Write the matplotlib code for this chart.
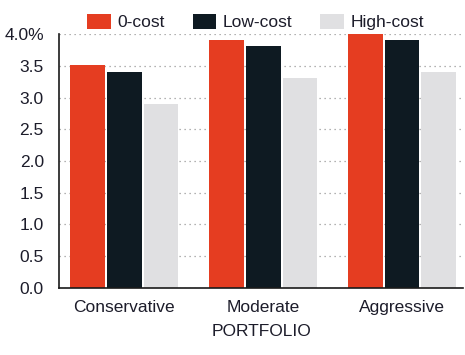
import matplotlib.pyplot as plt
import numpy as np

portfolios = ["Conservative", "Moderate", "Aggressive"]
series = ["0-cost", "Low-cost", "High-cost"]
zero_cost = [3.51, 3.91, 4.0]
low_cost = [3.40, 3.81, 3.91]
high_cost = [2.90, 3.31, 3.40]
yticks = [0.0, 0.5, 1.0, 1.5, 2.0, 2.5, 3.0, 3.5, 4.0]
ytick_labels = ["0.0", "0.5", "1.0", "1.5", "2.0", "2.5", "3.0", "3.5", "4.0%"]

colors = ["#E53D21", "#0E1A22", "#E0E0E2"]
text_color = "#1c1c2a"

plt.rcParams["font.family"] = ["Liberation Sans", "DejaVu Sans"]

fig = plt.figure(figsize=(4.65, 3.55), dpi=100)
ax = fig.add_axes([0.127, 0.189, 0.869, 0.715])

x = np.arange(len(portfolios))
width = 0.25
offsets = [-0.265, 0.0, 0.265]
for vals, off, col, lab in zip([zero_cost, low_cost, high_cost], offsets, colors, series):
    ax.bar(x + off, vals, width, color=col, label=lab, zorder=2)

ax.set_xlim(-0.47, 2.44)
ax.set_ylim(0, 4.0)
ax.set_yticks(yticks)
ax.set_yticklabels(ytick_labels)
ax.set_xticks(x)
ax.set_xticklabels(portfolios)
ax.tick_params(axis="both", length=0, labelsize=12.5, colors=text_color)
ax.tick_params(axis="x", pad=9)
ax.tick_params(axis="y", pad=11)

ax.grid(axis="y", ls=(0, (1, 3)), color="#999999", lw=0.9, zorder=0)
ax.set_axisbelow(True)

for s in ["top", "right"]:
    ax.spines[s].set_visible(False)
for s in ["left", "bottom"]:
    ax.spines[s].set_color("#1a1a1a")
    ax.spines[s].set_linewidth(1.2)

ax.set_xlabel("PORTFOLIO", fontsize=12.5, color=text_color, labelpad=6)

ax.legend(
    loc="upper center",
    bbox_to_anchor=(0.55, 1.005),
    bbox_transform=fig.transFigure,
    ncol=3,
    frameon=False,
    fontsize=12.5,
    handlelength=1.35,
    handleheight=0.95,
    handletextpad=0.4,
    columnspacing=1.6,
    labelcolor=text_color,
)

fig.savefig("out.png", dpi=100)
